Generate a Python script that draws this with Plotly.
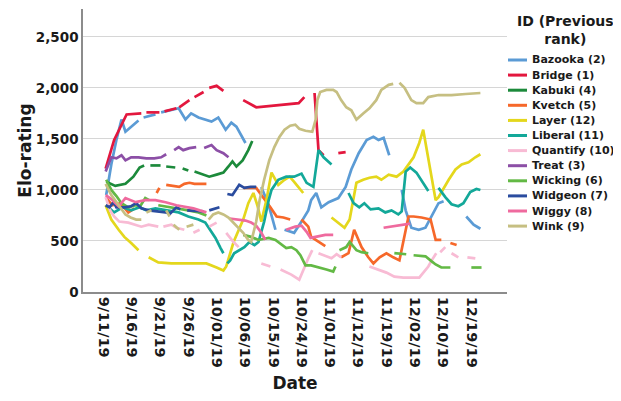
import plotly.graph_objects as go

# ---------------- data ----------------
TICK_IDX = [0, 5, 10, 15, 20, 25, 30, 35, 40, 45, 50, 55, 60, 65]
TICK_LABELS = ["9/11/19", "9/16/19", "9/21/19", "9/26/19", "10/01/19", "10/06/19",
               "10/15/19", "10/24/19", "11/01/19", "11/12/19", "11/19/19",
               "12/02/19", "12/10/19", "12/19/19"]
Y_TICKS = [0, 500, 1000, 1500, 2000, 2500]

SERIES_NAMES = ["Bazooka (2)", "Bridge (1)", "Kabuki (4)", "Kvetch (5)", "Layer (12)",
                "Liberal (11)", "Quantify (10)", "Treat (3)", "Wicking (6)",
                "Widgeon (7)", "Wiggy (8)", "Wink (9)"]
COLORS = ["#5B9BD5", "#E3173E", "#1C8A3B", "#F6682A", "#E4D71C", "#13A899",
          "#F8BBD4", "#8C4FA6", "#63B945", "#2A4C9F", "#EF6A9E", "#C6BF82"]
N = None

bazooka_x = [0.5, 1.4, 2.3, 3.2, 3.9, 4.9, 6.2, N, 7.1, 9.2, N, 10.2, 12.7, 13.3, 14.5, 15.5, 16.8, 18.0, 19.1, 20.3, 21.6, 22.6, 23.5, 25.1, N,
             27.9, 29.2, 30.4, N, 32.0, 33.7, 35.0, 36.2, 36.7, 37.6, 38.5, 39.8, 41.5, 42.8, 43.8, 45.1, 46.5, 47.7, 48.6, 49.5, 50.5, N,
             52.7, 53.4, 54.4, 55.7, 56.9, 58.0, 59.2, 60.1, N, 64.1, 65.4, 66.6]
bazooka_y = [950, 1250, 1490, 1690, 1570, 1620, 1680, N, 1710, 1740, N, 1760, 1790, 1800, 1690, 1750, 1710, 1690, 1670, 1710, 1590, 1660, 1620, 1460, N,
             1030, 850, 610, N, 610, 580, 690, 800, 900, 970, 830, 880, 920, 1030, 1200, 1360, 1490, 1520, 1490, 1510, 1340, N,
             1000, 800, 630, 610, 630, 740, 870, 890, N, 740, 660, 620]

bridge_x = [0.4, 1.9, 4.1, 6.7, N, 7.6, 9.9, N, 10.8, 12.9, N, 13.4, 15.2, N, 16.1, 17.7, N, 18.7, 20.0, 21.2, N,
            24.7, 27.0, 34.5, 35.5, N, 37.3, 38.0, 38.9, N, 41.5, 42.8]
bridge_y = [1210, 1490, 1740, 1750, N, 1760, 1760, N, 1770, 1800, N, 1810, 1880, N, 1910, 1960, N, 2000, 2020, 1970, N,
            1880, 1810, 1850, 1910, N, 1950, 1390, 1340, N, 1360, 1370]

kabuki_x = [0.5, 2.1, 3.9, 5.3, 6.4, 7.2, N, 8.3, 10.1, N, 11.1, 12.7, N, 14.0, 15.0, N,
            16.1, 17.7, 18.7, 20.0, 21.2, 22.1, 22.8, 23.5, 24.6, 25.6, 26.3]
kabuki_y = [1080, 1040, 1060, 1130, 1220, 1240, N, 1240, 1240, N, 1230, 1220, N, 1210, 1190, N,
            1180, 1150, 1130, 1150, 1170, 1230, 1280, 1230, 1290, 1390, 1480]

kvetch_x = [0.5, 1.6, 3.0, 4.4, 5.5, N, 9.4, 9.9, N, 11.1, 12.0, 13.4, 14.3, 15.2, 16.1, 18.2, N,
            24.7, 27.0, 27.9, 28.6, 29.5, 30.6, 31.8, 33.0, N, 35.0, 36.2, 36.7, 38.0, 39.2, N,
            42.0, 43.3, 44.3, 45.6, 46.8, 47.7, 48.8, 50.0, 51.2, 52.3, 53.9, 54.8, 56.2, 57.8, 58.7, 59.7, N, 61.3, 62.4]
kvetch_y = [920, 850, 870, 780, 820, N, 970, 1020, N, 1050, 1040, 1030, 1060, 1070, 1060, 1060, N,
            1020, 1020, 950, 900, 830, 740, 730, 710, N, 710, 640, 540, 490, 450, N,
            340, 380, 610, 440, 340, 280, 340, 380, 340, 310, 740, 740, 730, 710, 510, 510, N, 480, 460]

layer_x = [0.4, 1.4, 2.7, 3.7, 4.9, 6.2, N, 8.0, 9.7, 12.0, 18.2, 20.0, 21.2, 21.7, 23.0, 24.7, 25.6, 26.5, 27.2, 27.9,
           28.8, 29.7, 30.9, 32.0, 32.9, 33.7, 35.3, N, 40.3, 41.5, 42.6, 43.5, 44.2, 44.7, 45.9, 47.0, 48.2, 49.1,
           50.4, 51.8, 53.0, 54.8, 55.8, 56.5, 58.7, 59.2, 61.0, 62.2, 63.3, 64.5, 65.7, 66.6]
layer_y = [850, 710, 610, 540, 480, 410, N, 340, 290, 280, 280, 240, 210, 250, 490, 710, 870, 970, 850, 690,
           900, 1170, 1050, 1100, 1130, 1080, 970, N, 730, 680, 630, 710, 900, 1070, 1100, 1120, 1130, 1100,
           1150, 1130, 1180, 1320, 1460, 1590, 900, 930, 1100, 1200, 1250, 1270, 1320, 1350]

liberal_x = [0.5, 1.9, 3.4, 4.9, 6.4, 7.6, 9.2, 11.5, 13.3, 15.0, 16.8, 18.0, 18.9, 19.8, 20.7, 21.2, N,
             21.9, 22.4, 23.1, 24.0, 24.9, 25.8, 26.7, 27.4, 28.4, 29.2, 29.7, 30.9, 32.3, 33.7, 35.0, 35.9, 37.1,
             38.0, 38.9, 40.3, N, 43.3, 44.2, 45.2, 46.1, 47.2, 48.6, 49.8, 50.9, 52.1, 52.7, 53.4, 54.2, 55.3,
             56.4, 57.4, N, 59.2, 60.4, 61.5, 62.7, 63.6, 64.8, 65.9, 66.6]
liberal_y = [850, 780, 830, 800, 830, 800, 820, 800, 780, 740, 710, 680, 610, 530, 430, 380, N,
             280, 310, 380, 410, 440, 490, 460, 490, 690, 900, 1000, 1100, 1130, 1130, 1160, 1070, 1030,
             1390, 1320, 1250, N, 970, 870, 830, 870, 810, 820, 780, 800, 760, 790, 1180, 1220, 1170,
             1070, 990, N, 1020, 930, 860, 840, 870, 980, 1010, 1000]

quantify_x = [0.4, 1.2, 1.9, 2.8, 4.4, 5.5, 6.7, 8.0, 9.7, N, 10.6, 12.0, 12.9, 14.3, N, 15.9, 17.0, N, 18.7, 20.0, N,
              21.7, 23.0, 23.9, N, 27.9, 29.5, N, 31.3, 33.2, 34.6, 35.3, 36.2, 36.9, N, 38.0, 40.3, 41.2, 42.0, N,
              47.0, 48.6, 50.0, 51.4, 53.0, 55.8, 57.4, 58.0, 58.8, N, 59.5, 60.4, N, 61.5, 62.7, N, 64.3, 65.7]
quantify_y = [930, 800, 740, 690, 680, 660, 640, 660, 640, N, 640, 660, 630, 610, N, 580, 610, N, 640, 680, N,
              580, 490, 440, N, 280, 250, N, 220, 170, 120, 220, 330, 410, N, 380, 330, 370, 340, N,
              250, 220, 190, 150, 140, 140, 250, 310, 380, N, 390, 440, N, 380, 340, N, 340, 330]

treat_x = [0.4, 1.4, 2.3, 3.2, 3.9, 4.9, 6.2, 7.6, 9.0, 10.2, 11.1, N, 12.5, 13.3, 14.1, 15.2, 16.4, N,
           17.8, 19.1, 20.0, 21.2, 22.1]
treat_y = [1180, 1320, 1310, 1340, 1290, 1320, 1320, 1310, 1310, 1320, 1350, N, 1390, 1420, 1390, 1410, 1420, N,
           1410, 1440, 1390, 1360, 1320]

wicking_x = [0.5, 1.4, 2.3, 3.2, 4.4, 5.7, 6.5, 7.4, 8.1, N, 9.7, 12.0, 13.3, 15.0, 16.8, 18.2, N,
             24.7, 26.1, 27.4, 29.2, 30.4, 31.3, 32.3, 33.2, 34.1, 34.8, 35.7, 36.7, 38.3, 39.4, 40.6, 41.0, N,
             41.7, 42.9, 43.5, 44.2, 44.7, 45.6, 46.8, N, 51.4, 53.5, N, 54.8, 56.9, 58.0, 58.7, 59.7, 61.3, N, 65.0, 66.8]
wicking_y = [1100, 1000, 940, 870, 830, 850, 840, 920, 900, N, 850, 830, 820, 800, 780, 750, N,
             560, 540, 510, 530, 510, 470, 430, 440, 410, 360, 260, 260, 240, 220, 200, 250, N,
             410, 440, 490, 440, 410, 390, 380, N, 380, 370, N, 360, 350, 300, 270, 240, 240, N, 240, 240]

widgeon_x = [0.4, 1.1, 1.8, 2.3, 3.7, 4.9, 5.8, 6.7, 8.0, 9.7, 11.0, 11.8, 12.9, 13.6, N, 14.8, 17.7, N,
             18.7, 20.5, N, 21.9, 22.8, 24.0, 24.9, 26.0, 27.0]
widgeon_y = [850, 830, 880, 830, 830, 840, 870, 820, 800, 790, 780, 770, 830, 810, N, 800, 790, N,
             800, 830, N, 960, 950, 1050, 1020, 1030, 1030]

wiggy_x = [0.4, 1.4, 2.7, 3.9, 5.7, 7.4, 9.2, 11.0, 12.9, 14.7, 15.9, 17.0, 18.2, N,
           22.3, 23.9, 25.1, 26.1, 27.0, 27.9, 28.6, N, 32.3, 33.9, 35.0, 35.9, 36.6, 37.6, 39.2, 40.6, N,
           49.5, 51.8, 54.2]
wiggy_y = [950, 910, 840, 920, 880, 900, 900, 880, 850, 830, 820, 800, 780, N,
           720, 710, 700, 680, 650, 580, 510, N, 610, 640, 650, 590, 530, 540, 560, 560, N,
           630, 650, 670]

wink_x = [0.4, 1.4, 2.7, 3.9, 4.8, 5.8, 6.7, N, 7.6, 8.5, N, 11.1, 11.7, N, 12.4, 13.4, N, 14.7, 15.9, N,
          18.6, 19.4, 20.3, 21.2, 22.1, 23.0, 23.9, 24.7, 25.6, 26.1, 27.0, 27.6, 28.4, 29.3, 30.2, 31.1, 32.0,
          33.0, 33.9, 34.6, 35.7, 36.9, 37.5, 37.8, 38.3, 39.4, 40.6, 41.2, 42.0, 42.9, 43.8, 44.7, 45.9, 47.0,
          48.2, 49.1, 50.4, 51.2, N, 52.3, 53.2, 54.4, 55.3, 56.5, 57.4, 59.2, 61.5, 64.0, 66.6]
wink_y = [1060, 950, 850, 760, 730, 710, 710, N, 780, 800, N, 800, 740, N, 660, 610, N, 640, 660, N,
          710, 760, 780, 760, 730, 680, 630, 580, 510, 490, 690, 900, 1100, 1290, 1420, 1520, 1590,
          1630, 1640, 1600, 1580, 1570, 1690, 1880, 1960, 1980, 1980, 1960, 1880, 1810, 1780, 1690, 1750, 1800,
          1880, 1980, 2030, 2040, N, 2050, 2000, 1880, 1850, 1850, 1910, 1930, 1930, 1940, 1950]

SERIES_X = [bazooka_x, bridge_x, kabuki_x, kvetch_x, layer_x, liberal_x,
            quantify_x, treat_x, wicking_x, widgeon_x, wiggy_x, wink_x]
SERIES_Y = [bazooka_y, bridge_y, kabuki_y, kvetch_y, layer_y, liberal_y,
            quantify_y, treat_y, wicking_y, widgeon_y, wiggy_y, wink_y]

# ---------------- figure ----------------
FONT = "DejaVu Sans"
OFF = 8                      # page body margin of the html page
W, H = 621 - OFF, 401 - OFF
L, T = 83 - OFF, 9 - OFF     # plot area in page pixels: x 83..507, y 9..292
R = W - (507 - OFF)
B = H - (292 - OFF)
PW, PH = W - L - R, H - T - B

def px_to_paper(px, py):
    px, py = px - OFF, py - OFF
    return (px - L) / PW, (H - B - py) / PH

fig = go.Figure()
for name, col, xs, ys in zip(SERIES_NAMES, COLORS, SERIES_X, SERIES_Y):
    fig.add_trace(go.Scatter(x=xs, y=ys, mode="lines", name=name,
                             line=dict(color=col, width=2.7),
                             connectgaps=False, showlegend=False,
                             hoverinfo="skip"))

shapes = []
annotations = []
tx, ty = px_to_paper(565, 30)
annotations.append(dict(x=tx, y=ty, xref="paper", yref="paper", xanchor="center", yanchor="middle",
                        text="ID (Previous<br>rank)", showarrow=False, align="center",
                        font=dict(family=FONT, size=14, color="#1a1a1a", weight="bold")))
for i, (name, col) in enumerate(zip(SERIES_NAMES, COLORS)):
    py = 60 + 15.1 * i
    x0, y0 = px_to_paper(508, py)
    x1, _ = px_to_paper(527, py)
    shapes.append(dict(type="line", xref="paper", yref="paper", x0=x0, x1=x1, y0=y0, y1=y0,
                       line=dict(color=col, width=3)))
    ax, ay = px_to_paper(530, py)
    annotations.append(dict(x=ax, y=ay, xref="paper", yref="paper", xanchor="left", yanchor="middle",
                            text=name, showarrow=False,
                            font=dict(family=FONT, size=11, color="#1a1a1a", weight="bold")))

fig.update_layout(
    width=W, height=H,
    margin=dict(l=L, r=R, t=T, b=B, pad=0, autoexpand=False),
    paper_bgcolor="white", plot_bgcolor="white",
    showlegend=False,
    shapes=shapes, annotations=annotations,
    xaxis=dict(range=[-3.6, 71.3], tickmode="array", tickvals=TICK_IDX, ticktext=TICK_LABELS,
               tickangle=90, showgrid=False, zeroline=False, automargin=False,
               showline=True, linecolor="#8c8c8c", linewidth=1.5, ticks="",
               tickfont=dict(family=FONT, size=14.5, color="#1a1a1a", weight="bold"),
               title=dict(text="Date", standoff=10,
                          font=dict(family=FONT, size=17, color="#1a1a1a", weight="bold"))),
    yaxis=dict(range=[0, 2773], tickmode="array", tickvals=Y_TICKS, tickformat=",",
               showgrid=True, gridcolor="#d6d6d6", gridwidth=1, zeroline=False, automargin=False,
               showline=True, linecolor="#8c8c8c", linewidth=1.5, ticks="",
               tickfont=dict(family=FONT, size=13.5, color="#1a1a1a", weight="bold"),
               title=dict(text="Elo-rating", standoff=0,
                          font=dict(family=FONT, size=17, color="#1a1a1a", weight="bold"))),
)

fig.write_html("out.html")
